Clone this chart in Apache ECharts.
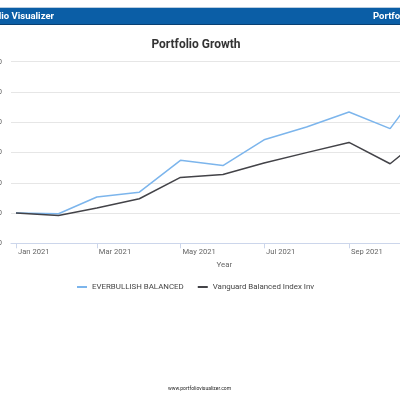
<!DOCTYPE html>
<html>
<head>
<meta charset="utf-8">
<script src="https://cdn.jsdelivr.net/npm/echarts@6/dist/echarts.min.js"></script>
<style>
html,body{margin:0;padding:0;width:400px;height:400px;overflow:hidden;background:#fff;}
#chart{position:absolute;left:-60px;top:0;width:620px;height:400px;}
</style>
</head>
<body>
<div id="chart"></div>
<script>
const dates = ['2021-01-01','2021-02-01','2021-03-01','2021-04-01','2021-05-01','2021-06-01','2021-07-01','2021-08-01','2021-09-01','2021-10-01','2021-11-01'];
const everbullish = [10000, 9988, 10264, 10345, 10870, 10785, 11210, 11420, 11668, 11395, 12330];
const vanguard = [10000, 9960, 10082, 10236, 10588, 10636, 10826, 10998, 11166, 10814, 11383];
const seriesNames = ['EVERBULLISH BALANCED', 'Vanguard Balanced Index Inv'];
const yTicks = {min: 9500, max: 12500, step: 500};
const months = ['Jan','Feb','Mar','Apr','May','Jun','Jul','Aug','Sep','Oct','Nov','Dec'];

const DAY = 86400000;
const xMin = new Date(2021,0,1).getTime() - 3.65*DAY;
const xMax = new Date(2021,10,1).getTime() + 3.65*DAY;
const pxPerDay = 1.3704;
const plotWidth = (xMax - xMin)/DAY*pxPerDay;

const chart = echarts.init(document.getElementById('chart'), null, {renderer:'canvas'});
const font = 'Roboto, "Liberation Sans", sans-serif';
chart.setOption({
  animation: false,
  textStyle: {fontFamily: font},
  title: {
    text: 'Portfolio Growth',
    left: 251, top: 34, textAlign: 'center',
    textStyle: {fontSize: 12, fontWeight: 'bold', color: '#333333', fontFamily: font}
  },
  legend: {
    left: 132, top: 278,
    icon: 'rect', itemWidth: 10, itemHeight: 2, itemGap: 14, itemTextGap: 4,
    textStyle: {fontSize: 7.9, color: '#444444', fontFamily: font},
    data: seriesNames
  },
  graphic: [
    {type:'rect', shape:{x:0,y:7,width:620,height:1}, style:{fill:'#b9cde0'}, silent:true},
    {type:'rect', shape:{x:0,y:8,width:620,height:16}, style:{fill:'#0b5ea6'}, silent:true},
    {type:'rect', shape:{x:0,y:24,width:620,height:1}, style:{fill:'#083f72'}, silent:true},
    {type:'text', x:114, y:16.5, style:{text:'Portfolio Visualizer', fill:'#ffffff', font:'bold 9.5px ' + font, textAlign:'right', textVerticalAlign:'middle'}, silent:true},
    {type:'text', x:433, y:16.5, style:{text:'Portfolio Visualizer', fill:'#ffffff', font:'bold 9.5px ' + font, textAlign:'left', textVerticalAlign:'middle'}, silent:true},
    {type:'text', x:259.5, y:389, style:{text:'www.portfoliovisualizer.com', fill:'#222222', font:'5px ' + font, textAlign:'center', textVerticalAlign:'middle'}, silent:true}
  ],
  grid: {left: 71, top: 61.7, height: 181.6, width: plotWidth, outerBoundsMode: 'none', containLabel: false},
  xAxis: {
    type: 'time', min: xMin, max: xMax, splitNumber: 5,
    name: 'Year', nameLocation: 'middle', nameGap: 18,
    nameTextStyle: {fontSize: 7.9, color: '#666666'},
    axisLine: {show: true, lineStyle: {color: '#ccd6eb', width: 1}},
    axisTick: {show: true, length: 5, lineStyle: {color: '#ccd6eb'}},
    splitLine: {show: false},
    axisLabel: {
      color: '#666666', fontSize: 7.6, align: 'left', margin: 5, padding:[0,0,0,2],
      formatter: function (v) { const d = new Date(v); return months[d.getMonth()] + ' ' + d.getFullYear(); }
    }
  },
  yAxis: {
    type: 'value', min: yTicks.min, max: yTicks.max, interval: yTicks.step,
    axisLine: {show: false}, axisTick: {show: false},
    splitLine: {lineStyle: {color: '#e6e6e6', width: 1}},
    axisLabel: {color: '#666666', fontSize: 7.6, margin: 9,
      formatter: function (v) { return '$' + v.toLocaleString('en-US'); }}
  },
  series: [
    {name: seriesNames[0], type: 'line', data: dates.map((d,i)=>[d, everbullish[i]]),
     showSymbol: false, symbol: 'none', lineStyle: {color: '#7cb5ec', width: 1.5}, itemStyle:{color:'#7cb5ec'}},
    {name: seriesNames[1], type: 'line', data: dates.map((d,i)=>[d, vanguard[i]]),
     showSymbol: false, symbol: 'none', lineStyle: {color: '#434348', width: 1.5}, itemStyle:{color:'#434348'}}
  ]
});
</script>
</body>
</html>
